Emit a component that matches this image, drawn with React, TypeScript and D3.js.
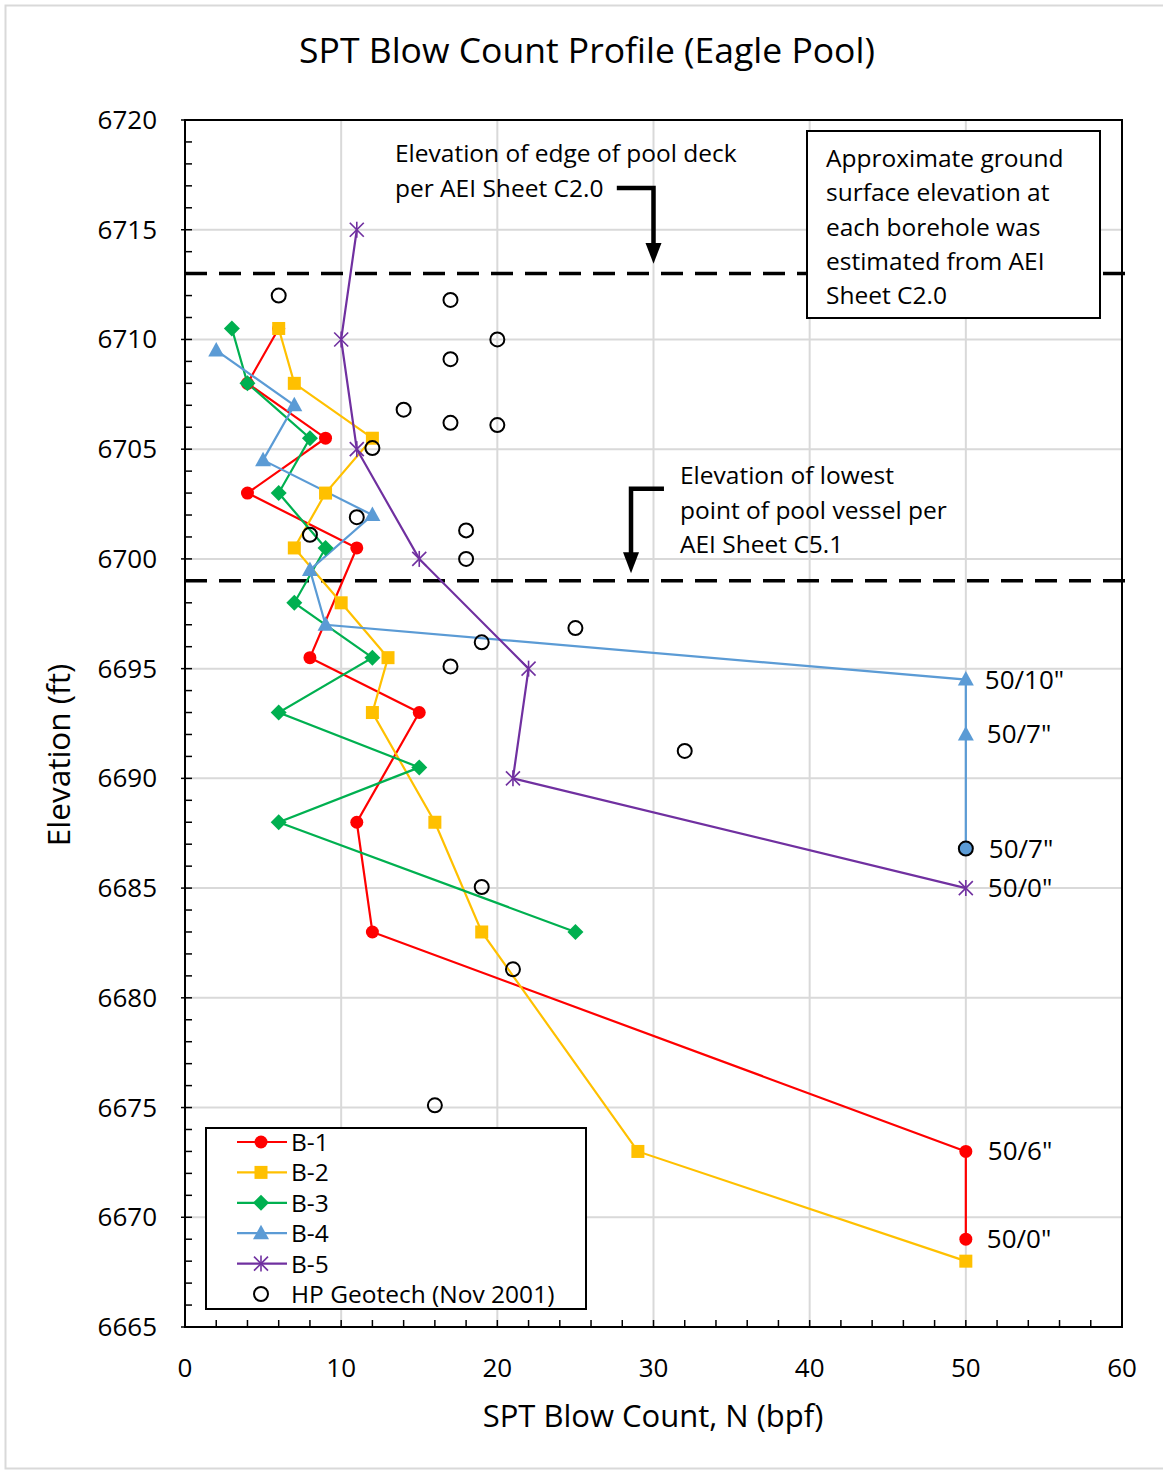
import React from "react";
import * as d3 from "d3";

const W = 1163;
const H = 1473;
const M = { left: 185, right: 1122, top: 120, bottom: 1327 };

const xTicks = [0, 10, 20, 30, 40, 50, 60];
const yTicks = [6665, 6670, 6675, 6680, 6685, 6690, 6695, 6700, 6705, 6710, 6715, 6720];

const b1N = [6, 4, 9, 4, 11, 8, 15, 11, 12, 50, 50];
const b1E = [6710.5, 6708, 6705.5, 6703, 6700.5, 6695.5, 6693, 6688, 6683, 6673, 6669];

const b2N = [6, 7, 12, 9, 7, 10, 13, 12, 16, 19, 29, 50];
const b2E = [6710.5, 6708, 6705.5, 6703, 6700.5, 6698, 6695.5, 6693, 6688, 6683, 6673, 6668];

const b3N = [3, 4, 8, 6, 9, 7, 12, 6, 15, 6, 25];
const b3E = [6710.5, 6708, 6705.5, 6703, 6700.5, 6698, 6695.5, 6693, 6690.5, 6688, 6683];

const b4N = [2, 7, 5, 12, 8, 9, 50, 50];
const b4E = [6709.5, 6707, 6704.5, 6702, 6699.5, 6697, 6694.5, 6692];
const b4EndN = 50;
const b4EndE = 6686.8;

const b5N = [11, 10, 11, 15, 22, 21, 50];
const b5E = [6715, 6710, 6705, 6700, 6695, 6690, 6685];

const hpN = [6, 17, 20, 17, 14, 17, 20, 12, 11, 8, 18, 18, 25, 19, 17, 32, 19, 21, 16];
const hpE = [6712, 6711.8, 6710, 6709.1, 6706.8, 6706.2, 6706.1, 6705.05, 6701.9, 6701.1, 6701.3, 6700, 6696.85, 6696.2, 6695.1, 6691.25, 6685.05, 6681.3, 6675.1];

const refuseLabels = ['50/10"', '50/7"', '50/7"', '50/0"', '50/6"', '50/0"'];
const refuseE = [6694.5, 6692, 6686.8, 6685, 6673, 6669];
const refuseDx = [19, 21, 23, 22, 22, 21];

const deckElev = 6713;
const vesselElev = 6699;

const seriesNames = ["B-1", "B-2", "B-3", "B-4", "B-5"];
const seriesColors = ["#FF0000", "#FFC000", "#00B050", "#5B9BD5", "#7030A0"];
const seriesShapes = ["circle", "square", "diamond", "triangle", "star"];

const FONT = "'Open Sans', Lato, sans-serif";

function Marker({ shape, x, y, color }: { shape: string; x: number; y: number; color: string }) {
  if (shape === "circle") return <circle cx={x} cy={y} r={6.5} fill={color} />;
  if (shape === "square") return <rect x={x - 6.5} y={y - 6.5} width={13} height={13} fill={color} />;
  if (shape === "diamond")
    return <path d={`M${x},${y - 8}L${x + 8},${y}L${x},${y + 8}L${x - 8},${y}Z`} fill={color} />;
  if (shape === "triangle")
    return <path d={`M${x},${y - 8.5}L${x + 8},${y + 6}L${x - 8},${y + 6}Z`} fill={color} />;
  const s = 7;
  return (
    <g stroke={color} strokeWidth={1.6}>
      <line x1={x - s} y1={y - s} x2={x + s} y2={y + s} />
      <line x1={x - s} y1={y + s} x2={x + s} y2={y - s} />
      <line x1={x} y1={y - s - 1} x2={x} y2={y + s + 1} />
    </g>
  );
}

export default function App() {
  const x = d3.scaleLinear().domain([0, 60]).range([M.left, M.right]);
  const y = d3.scaleLinear().domain([6665, 6720]).range([M.bottom, M.top]);

  const seriesN = [b1N, b2N, b3N, b4N, b5N];
  const seriesE = [b1E, b2E, b3E, b4E, b5E];

  const line = d3
    .line<[number, number]>()
    .x((d) => x(d[0]))
    .y((d) => y(d[1]));

  const minorX = d3.range(0, 61, 2);
  const minorY = d3.range(6665, 6721, 1);

  const legendRows = [...seriesNames, "HP Geotech (Nov 2001)"];

  return (
    <svg
      width={W}
      height={H}
      style={{ position: "absolute", left: 0, top: 0, background: "#fff" }}
      fontFamily={FONT}
    >
      <rect x={0} y={0} width={W} height={H} fill="#fff" />
      <rect x={5.5} y={5.5} width={W + 10} height={H - 10} fill="none" stroke="#d9d9d9" strokeWidth={2} />

      <text x={587} y={63} textAnchor="middle" fontSize={35.5} fill="#000">
        SPT Blow Count Profile (Eagle Pool)
      </text>

      {xTicks.slice(1, -1).map((t) => (
        <line key={"gx" + t} x1={x(t)} x2={x(t)} y1={y(6665)} y2={y(6720)} stroke="#d9d9d9" strokeWidth={2} />
      ))}
      {yTicks.slice(1, -1).map((t) => (
        <line key={"gy" + t} x1={x(0)} x2={x(60)} y1={y(t)} y2={y(t)} stroke="#d9d9d9" strokeWidth={2} />
      ))}

      {minorX.map((t) => (
        <line key={"mx" + t} x1={x(t)} x2={x(t)} y1={y(6665)} y2={y(6665) - 7} stroke="#000" strokeWidth={1.5} />
      ))}
      {minorY.map((t) => (
        <line key={"my" + t} x1={x(0)} x2={x(0) + 7} y1={y(t)} y2={y(t)} stroke="#000" strokeWidth={1.5} />
      ))}
      {yTicks.map((t) => (
        <line key={"My" + t} x1={x(0) - 4} x2={x(0)} y1={y(t)} y2={y(t)} stroke="#000" strokeWidth={1.5} />
      ))}

      <rect
        x={x(0)}
        y={y(6720)}
        width={x(60) - x(0)}
        height={y(6665) - y(6720)}
        fill="none"
        stroke="#000"
        strokeWidth={2}
      />

      {yTicks.map((t) => (
        <text key={"ty" + t} x={157} y={y(t) + 9} textAnchor="end" fontSize={26} fill="#000">
          {t}
        </text>
      ))}
      {xTicks.map((t) => (
        <text key={"tx" + t} x={x(t)} y={1377} textAnchor="middle" fontSize={26} fill="#000">
          {t}
        </text>
      ))}

      <text x={653} y={1427} textAnchor="middle" fontSize={31} fill="#000">
        SPT Blow Count, N (bpf)
      </text>
      <text transform={`translate(70,755) rotate(-90)`} textAnchor="middle" fontSize={31.5} fill="#000">
        Elevation (ft)
      </text>

      {[deckElev, vesselElev].map((e) => (
        <line
          key={"d" + e}
          x1={x(0)}
          x2={x(60) + 4}
          y1={y(e)}
          y2={y(e)}
          stroke="#000"
          strokeWidth={3.5}
          strokeDasharray="22,12"
        />
      ))}

      {seriesN.map((ns, i) => {
        const pts: [number, number][] = ns.map((n, j) => [n, seriesE[i][j]]);
        if (i === 3) pts.push([b4EndN, b4EndE]);
        return (
          <path key={"l" + i} d={line(pts) || ""} fill="none" stroke={seriesColors[i]} strokeWidth={2.2} />
        );
      })}
      {seriesN.map((ns, i) =>
        ns.map((n, j) => (
          <Marker key={`m${i}-${j}`} shape={seriesShapes[i]} x={x(n)} y={y(seriesE[i][j])} color={seriesColors[i]} />
        ))
      )}

      <circle cx={x(b4EndN)} cy={y(b4EndE)} r={7} fill={seriesColors[3]} stroke="#000" strokeWidth={2} />
      {hpN.map((n, j) => (
        <circle key={"hp" + j} cx={x(n)} cy={y(hpE[j])} r={7} fill="none" stroke="#000" strokeWidth={2} />
      ))}

      {refuseLabels.map((t, i) => (
        <text key={"rl" + i} x={x(50) + refuseDx[i]} y={y(refuseE[i]) + 9} fontSize={26} fill="#000">
          {t}
        </text>
      ))}

      <text fontSize={24.5} fill="#000">
        <tspan x={395} y={162}>Elevation of edge of pool deck</tspan>
        <tspan x={395} y={197}>per AEI Sheet C2.0</tspan>
      </text>
      <path
        d={`M${x(27.65)},${y(6716.9)}H${x(30)}V${y(6714.3)}`}
        fill="none"
        stroke="#000"
        strokeWidth={4.5}
      />
      <path
        d={`M${x(30) - 8},${y(6714.4)}L${x(30) + 8},${y(6714.4)}L${x(30)},${y(6713.45)}Z`}
        fill="#000"
      />

      <text fontSize={24.5} fill="#000">
        <tspan x={680} y={484}>Elevation of lowest</tspan>
        <tspan x={680} y={519}>point of pool vessel per</tspan>
        <tspan x={680} y={553}>AEI Sheet C5.1</tspan>
      </text>
      <path
        d={`M${x(30.67)},${y(6703.2)}H${x(28.56)}V${y(6700.2)}`}
        fill="none"
        stroke="#000"
        strokeWidth={4.5}
      />
      <path
        d={`M${x(28.56) - 8},${y(6700.3)}L${x(28.56) + 8},${y(6700.3)}L${x(28.56)},${y(6699.35)}Z`}
        fill="#000"
      />

      <rect x={807} y={131} width={293} height={187} fill="#fff" stroke="#000" strokeWidth={2} />
      <text fontSize={24.5} fill="#000">
        <tspan x={826} y={167}>Approximate ground</tspan>
        <tspan x={826} y={201}>surface elevation at</tspan>
        <tspan x={826} y={236}>each borehole was</tspan>
        <tspan x={826} y={270}>estimated from AEI</tspan>
        <tspan x={826} y={304}>Sheet C2.0</tspan>
      </text>

      <rect x={206} y={1128} width={380} height={181} fill="#fff" stroke="#000" strokeWidth={2} />
      {legendRows.map((name, i) => {
        const ly = 1142 + i * 30.4;
        return (
          <g key={"lg" + i}>
            {i < 5 ? (
              <>
                <line x1={237} x2={287} y1={ly} y2={ly} stroke={seriesColors[i]} strokeWidth={2.2} />
                <Marker shape={seriesShapes[i]} x={261} y={ly} color={seriesColors[i]} />
              </>
            ) : (
              <circle cx={261} cy={ly} r={7} fill="none" stroke="#000" strokeWidth={2} />
            )}
            <text x={291} y={ly + 9} fontSize={24.5} fill="#000">
              {name}
            </text>
          </g>
        );
      })}
    </svg>
  );
}
